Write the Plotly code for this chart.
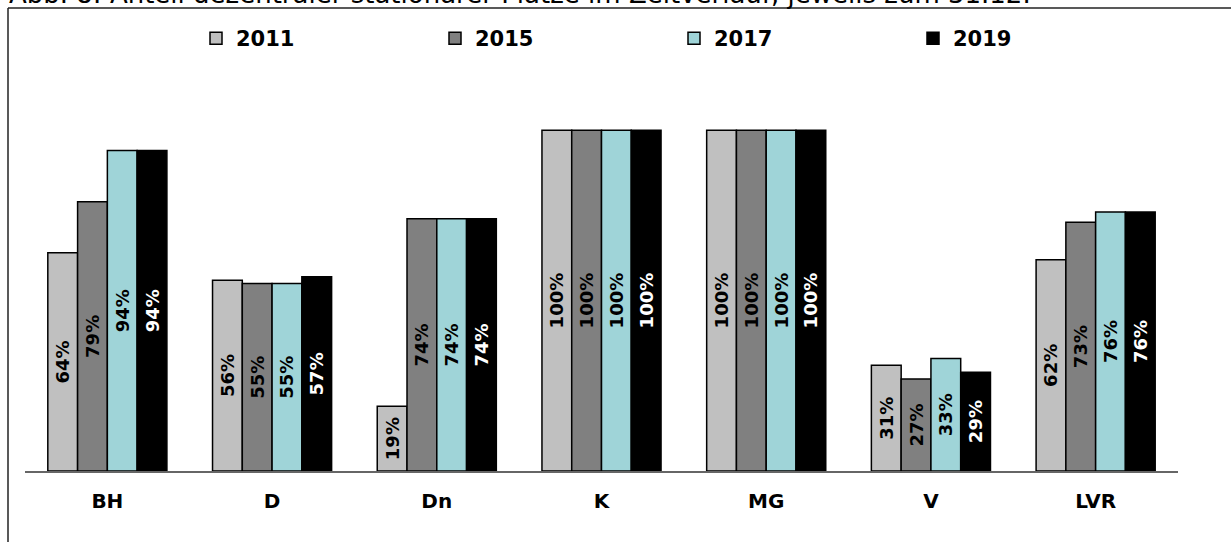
import plotly.graph_objects as go

# Regions and share of decentralised places per year (in %)
regions = ["BH", "D", "Dn", "K", "MG", "V", "LVR"]
years = ["2011", "2015", "2017", "2019"]
share_2011 = [64, 56, 19, 100, 100, 31, 62]
share_2015 = [79, 55, 74, 100, 100, 27, 73]
share_2017 = [94, 55, 74, 100, 100, 33, 76]
share_2019 = [94, 57, 74, 100, 100, 29, 76]

series = [share_2011, share_2015, share_2017, share_2019]
fill_colors = ["#C0C0C0", "#808080", "#9FD4D8", "#000000"]
label_colors = ["#000000", "#000000", "#000000", "#FFFFFF"]

title_text = "Abb. 8: Anteil dezentraler stationärer Plätze im Zeitverlauf, jeweils zum 31.12."

W, H = 1231, 542
ML, MR, MT, MB = 25, 53, 62, 71
PW, PH = W - ML - MR, H - MT - MB


def px_x(x):
    return (x - ML) / PW


def px_y(y):
    return (H - MB - y) / PH


fig = go.Figure()
for year, vals, fc, lc in zip(years, series, fill_colors, label_colors):
    fig.add_trace(go.Bar(
        name=year,
        x=regions,
        y=vals,
        marker=dict(color=fc, line=dict(color="#000000", width=1.5)),
        text=[f"{v}%" for v in vals],
        textposition="inside",
        insidetextanchor="middle",
        textangle=-90,
        textfont=dict(family="DejaVu Sans", size=18, color=lc, weight="bold"),
        constraintext="none",
    ))

fig.update_layout(
    width=W, height=H,
    margin=dict(l=ML, r=MR, t=MT, b=MB, pad=0),
    paper_bgcolor="white", plot_bgcolor="white",
    barmode="group", bargap=0.277, bargroupgap=0,
    font=dict(family="DejaVu Sans", color="#000000"),
    legend=dict(
        orientation="h",
        x=px_x(196), xanchor="left",
        y=px_y(18), yanchor="top",
        entrywidth=194, entrywidthmode="pixels",
        font=dict(family="DejaVu Sans", size=21, color="#000000", weight="bold"),
        bgcolor="rgba(0,0,0,0)",
        traceorder="normal",
    ),
    xaxis=dict(
        showline=True, linecolor="#666666", linewidth=1.5,
        showgrid=False, ticks="",
        ticklabelstandoff=11,
        tickfont=dict(family="DejaVu Sans", size=20, color="#000000", weight="bold"),
        range=[-0.5, 6.5],
    ),
    yaxis=dict(range=[0, 120], visible=False, showgrid=False, zeroline=False),
    shapes=[
        # chart frame: left and top edges
        dict(type="line", xref="paper", yref="paper",
             x0=px_x(8), x1=px_x(8), y0=px_y(8), y1=px_y(H + 5),
             line=dict(color="#222222", width=1.5)),
        dict(type="line", xref="paper", yref="paper",
             x0=px_x(8), x1=px_x(W + 5), y0=px_y(8), y1=px_y(8),
             line=dict(color="#222222", width=1.5)),
    ],
    annotations=[
        dict(text=title_text, xref="paper", yref="paper",
             x=px_x(7), xanchor="left", y=px_y(11), yanchor="bottom",
             showarrow=False,
             font=dict(family="DejaVu Sans", size=26, color="#000000")),
    ],
)

fig.write_html("out.html")
